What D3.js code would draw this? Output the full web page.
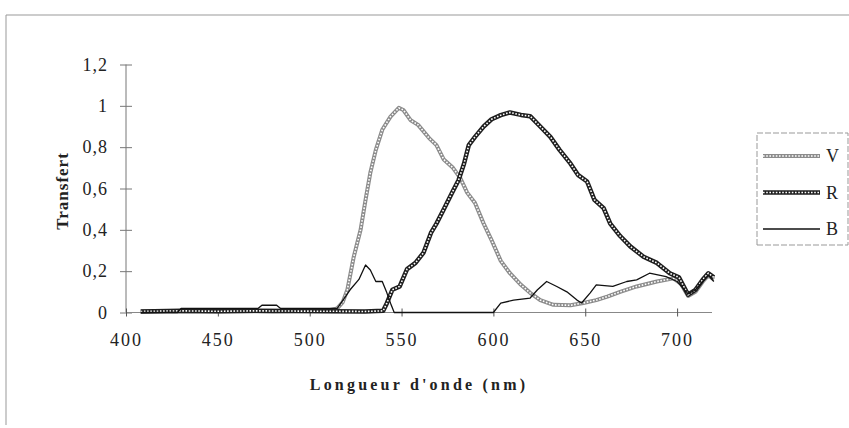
<!DOCTYPE html>
<html>
<head>
<meta charset="utf-8">
<script src="https://cdn.jsdelivr.net/npm/d3@7"></script>
<style>
  body { margin: 0; background: #fff; }
  svg { display: block; font-family: "Liberation Serif", "DejaVu Serif", serif; }
</style>
</head>
<body>
<svg id="chart" width="849" height="428"></svg>
<script>
// wavelengths (nm) and transfer values
var lambdaV = [408, 420, 440, 460, 480, 500, 510, 515, 518, 520.5, 524, 527.7, 530.4, 533, 536, 539.5, 544, 548.5, 551, 555, 559, 565, 569, 573, 578, 582, 585.7, 590, 594.7, 599, 604, 609, 615, 620, 625.5, 632.7, 642, 649, 656, 662, 669, 678, 689, 698, 702, 706, 710, 714, 717, 720];
var valV = [0.005, 0.006, 0.005, 0.006, 0.005, 0.008, 0.01, 0.02, 0.05, 0.11, 0.27, 0.40, 0.545, 0.676, 0.787, 0.884, 0.948, 0.99, 0.98, 0.93, 0.908, 0.844, 0.81, 0.74, 0.70, 0.65, 0.58, 0.53, 0.43, 0.35, 0.25, 0.19, 0.134, 0.095, 0.06, 0.037, 0.035, 0.046, 0.06, 0.077, 0.10, 0.126, 0.15, 0.165, 0.14, 0.08, 0.10, 0.15, 0.18, 0.16];

var lambdaR = [408, 430, 450, 470, 490, 510, 530, 540, 542, 545, 549, 553, 557.6, 562, 566, 569, 573, 577.5, 581, 584, 586.6, 590, 594.7, 599, 604, 609, 615, 620, 625.5, 631, 636, 642, 646, 651, 655, 660, 663.6, 669, 674.5, 681.7, 689, 696, 701, 706, 710, 714, 717, 720];
var valR = [0.005, 0.008, 0.006, 0.008, 0.007, 0.006, 0.005, 0.008, 0.045, 0.11, 0.126, 0.21, 0.24, 0.29, 0.385, 0.43, 0.50, 0.58, 0.64, 0.72, 0.81, 0.85, 0.90, 0.935, 0.955, 0.968, 0.956, 0.95, 0.90, 0.85, 0.787, 0.72, 0.666, 0.634, 0.545, 0.505, 0.43, 0.37, 0.32, 0.27, 0.24, 0.19, 0.17, 0.086, 0.11, 0.16, 0.19, 0.17];

var lambdaB = [408, 428, 430, 472, 474, 482, 484, 515, 517, 522, 526.8, 530.4, 533, 536, 539.5, 542, 544, 546, 600, 604, 611, 620, 624, 629, 634.5, 640, 645.5, 648, 652.7, 656, 665, 672.6, 678, 685, 694, 700, 706, 710, 717, 720];
var valB = [0, 0, 0.02, 0.02, 0.035, 0.035, 0.02, 0.02, 0.045, 0.11, 0.16, 0.23, 0.206, 0.15, 0.15, 0.095, 0.045, 0, 0, 0.045, 0.06, 0.07, 0.11, 0.15, 0.126, 0.10, 0.06, 0.046, 0.095, 0.134, 0.126, 0.15, 0.158, 0.19, 0.174, 0.15, 0.09, 0.11, 0.18, 0.15];

var xTicks = [400, 450, 500, 550, 600, 650, 700];
var yTicks = [0, 0.2, 0.4, 0.6, 0.8, 1, 1.2];
var seriesNames = ["V", "R", "B"];

var svg = d3.select("#chart");

// outer frame (only top and left edges show in the scan)
svg.append("path")
    .attr("d", "M6,425 L6,15 L849,15")
    .attr("fill", "none")
    .attr("stroke", "#999")
    .attr("stroke-width", 1);

var x = d3.scaleLinear().domain([400, 719]).range([126, 712]);
var y = d3.scaleLinear().domain([0, 1.2]).range([312.5, 64.5]);

var fmt = function(d) { return String(d).replace(".", ","); };

// Y axis, ticks crossing the line
var yAxis = svg.append("g")
    .attr("transform", "translate(" + x(400) + ",0)")
    .call(d3.axisLeft(y).tickValues(yTicks).tickFormat(fmt).tickSize(6).tickPadding(12));
yAxis.select(".domain").attr("stroke", "#777").attr("d", "M0," + y(1.2) + "V" + y(0));
yAxis.selectAll(".tick line").attr("x1", 6).attr("stroke", "#777");
yAxis.selectAll("text")
    .style("font-family", "Liberation Serif")
    .style("font-size", "18px")
    .style("letter-spacing", "1px")
    .attr("fill", "#222");

// X axis
var xAxis = svg.append("g")
    .attr("transform", "translate(0," + y(0) + ")")
    .call(d3.axisBottom(x).tickValues(xTicks).tickSize(4).tickPadding(17));
xAxis.select(".domain").attr("stroke", "#888").attr("d", "M" + x(400) + ",0H" + x(719));
xAxis.selectAll(".tick line").attr("y1", -4).attr("stroke", "#555");
xAxis.selectAll("text")
    .style("font-family", "Liberation Serif")
    .style("font-size", "18px")
    .style("letter-spacing", "2px")
    .attr("fill", "#222");

// axis titles
svg.append("text")
    .attr("x", 419)
    .attr("y", 390)
    .attr("text-anchor", "middle")
    .style("font-size", "16px")
    .style("font-weight", "bold")
    .style("letter-spacing", "3.2px")
    .attr("fill", "#222")
    .text("Longueur d'onde (nm)");

svg.append("text")
    .attr("transform", "translate(68,191) rotate(-90)")
    .attr("text-anchor", "middle")
    .style("font-size", "17px")
    .style("font-weight", "bold")
    .style("letter-spacing", "1px")
    .attr("fill", "#222")
    .text("Transfert");

// line styles: textured "chain" for V and R, thin solid for B
var styles = {
    V: { outer: "#8c8c8c", width: 4 },
    R: { outer: "#1e1e1e", width: 4.5 },
    B: { outer: "#111", width: 1.3 }
};

function pairs(ls, vs) { return ls.map(function(l, i) { return [l, vs[i]]; }); }
var series = {
    V: pairs(lambdaV, valV),
    R: pairs(lambdaR, valR),
    B: pairs(lambdaB, valB)
};

var line = d3.line()
    .x(function(d) { return x(d[0]); })
    .y(function(d) { return y(d[1]); });

function drawStyled(g, path, name) {
    var s = styles[name];
    g.append("path")
        .attr("d", path)
        .attr("fill", "none")
        .attr("stroke", s.outer)
        .attr("stroke-width", s.width)
        .attr("stroke-linejoin", "round");
    if (name !== "B") {
        g.append("path")
            .attr("d", path)
            .attr("fill", "none")
            .attr("stroke", "#fff")
            .attr("stroke-width", 1.6)
            .attr("stroke-dasharray", "1.6,1.6");
    }
}

var plot = svg.append("g");
seriesNames.forEach(function(name) {
    drawStyled(plot, line(series[name]), name);
});

// legend
var lg = svg.append("g");
lg.append("path")
    .attr("d", "M757,245 V133 H848 V245 Z")
    .attr("fill", "none")
    .attr("stroke", "#999")
    .attr("stroke-width", 1)
    .attr("stroke-dasharray", "6,2");

var legendY = d3.scalePoint().domain(seriesNames).range([156, 229]);
seriesNames.forEach(function(name) {
    var yy = legendY(name);
    drawStyled(lg, "M763," + yy + "H820", name);
    lg.append("text")
        .attr("x", 826)
        .attr("y", yy + 6)
        .style("font-size", "18px")
        .attr("fill", "#222")
        .text(name);
});
</script>
</body>
</html>
